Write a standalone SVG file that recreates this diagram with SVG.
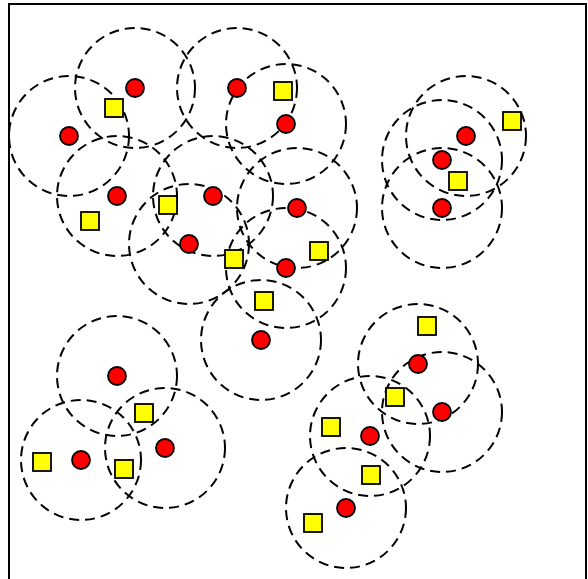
<svg xmlns="http://www.w3.org/2000/svg" width="588" height="579" viewBox="0 0 588 579">
<style>
.range{fill:none;stroke:#000;stroke-width:2;stroke-dasharray:10,6}
.dot{fill:#f00;stroke:#000;stroke-width:1.8}
.sq{fill:#ff0;stroke:#000;stroke-width:1.8}
</style>
<rect x="0" y="0" width="588" height="579" fill="#fff"/>
<rect x="9" y="4" width="577" height="580" fill="none" stroke="#000" stroke-width="2"/>
<g id="ranges">
<circle class="range" cx="135" cy="88" r="60"/>
<circle class="range" cx="69" cy="136" r="60"/>
<circle class="range" cx="237" cy="88" r="60"/>
<circle class="range" cx="286" cy="124" r="60"/>
<circle class="range" cx="117" cy="196" r="60"/>
<circle class="range" cx="213" cy="196" r="60"/>
<circle class="range" cx="189" cy="244" r="60"/>
<circle class="range" cx="297" cy="208" r="60"/>
<circle class="range" cx="286" cy="268" r="60"/>
<circle class="range" cx="261" cy="340" r="60"/>
<circle class="range" cx="466" cy="136" r="60"/>
<circle class="range" cx="442" cy="160" r="60"/>
<circle class="range" cx="442" cy="208" r="60"/>
<circle class="range" cx="418" cy="364" r="60"/>
<circle class="range" cx="442" cy="412" r="60"/>
<circle class="range" cx="370" cy="436" r="60"/>
<circle class="range" cx="346" cy="508" r="60"/>
<circle class="range" cx="117" cy="376" r="60"/>
<circle class="range" cx="81" cy="460" r="60"/>
<circle class="range" cx="165" cy="448" r="60"/>
</g>
<g id="squares">
<rect class="sq" x="105" y="99" width="18" height="18"/>
<rect class="sq" x="274" y="82" width="18" height="18"/>
<rect class="sq" x="159" y="196" width="18" height="18"/>
<rect class="sq" x="81" y="212" width="18" height="18"/>
<rect class="sq" x="225" y="250" width="18" height="18"/>
<rect class="sq" x="255" y="292" width="18" height="18"/>
<rect class="sq" x="310" y="242" width="18" height="18"/>
<rect class="sq" x="503" y="112" width="18" height="18"/>
<rect class="sq" x="449" y="172" width="18" height="18"/>
<rect class="sq" x="418" y="317" width="18" height="18"/>
<rect class="sq" x="386" y="388" width="18" height="18"/>
<rect class="sq" x="322" y="418" width="18" height="18"/>
<rect class="sq" x="362" y="466" width="18" height="18"/>
<rect class="sq" x="304" y="514" width="18" height="18"/>
<rect class="sq" x="135" y="404" width="18" height="18"/>
<rect class="sq" x="33" y="453" width="18" height="18"/>
<rect class="sq" x="115" y="460" width="18" height="18"/>
</g>
<g id="dots">
<circle class="dot" cx="135" cy="88" r="9"/>
<circle class="dot" cx="69" cy="136" r="9"/>
<circle class="dot" cx="237" cy="88" r="9"/>
<circle class="dot" cx="286" cy="124" r="9"/>
<circle class="dot" cx="117" cy="196" r="9"/>
<circle class="dot" cx="213" cy="196" r="9"/>
<circle class="dot" cx="189" cy="244" r="9"/>
<circle class="dot" cx="297" cy="208" r="9"/>
<circle class="dot" cx="286" cy="268" r="9"/>
<circle class="dot" cx="261" cy="340" r="9"/>
<circle class="dot" cx="466" cy="136" r="9"/>
<circle class="dot" cx="442" cy="160" r="9"/>
<circle class="dot" cx="442" cy="208" r="9"/>
<circle class="dot" cx="418" cy="364" r="9"/>
<circle class="dot" cx="442" cy="412" r="9"/>
<circle class="dot" cx="370" cy="436" r="9"/>
<circle class="dot" cx="346" cy="508" r="9"/>
<circle class="dot" cx="117" cy="376" r="9"/>
<circle class="dot" cx="81" cy="460" r="9"/>
<circle class="dot" cx="165" cy="448" r="9"/>
</g>
</svg>
